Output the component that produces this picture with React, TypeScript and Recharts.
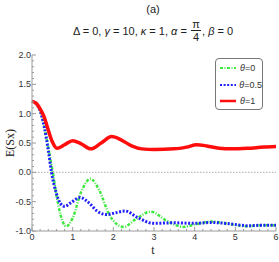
import { LineChart, Line, XAxis, YAxis, ReferenceLine } from 'recharts'

// time samples and values, one pair of arrays per curve
const tTheta0 = [0, 0.1, 0.2, 0.3, 0.4, 0.5, 0.6, 0.7, 0.84, 1.0, 1.2, 1.44, 1.65, 1.9, 2.25, 2.55, 2.92, 3.3, 3.72, 4.05, 4.42, 4.85, 5.28, 5.7, 6.0]
const vTheta0 = [1.21, 1.17, 1.05, 0.8, 0.42, 0.05, -0.38, -0.72, -0.92, -0.78, -0.35, -0.11, -0.3, -0.72, -0.93, -0.8, -0.67, -0.82, -0.93, -0.88, -0.84, -0.88, -0.92, -0.9, -0.9]

const tTheta05 = [0, 0.1, 0.2, 0.3, 0.4, 0.48, 0.6, 0.7, 0.8, 0.95, 1.18, 1.4, 1.6, 1.84, 2.05, 2.29, 2.6, 2.98, 3.5, 4.0, 4.4, 4.9, 5.3, 5.7, 6.0]
const vTheta05 = [1.21, 1.17, 1.05, 0.78, 0.38, 0.0, -0.36, -0.53, -0.58, -0.52, -0.43, -0.52, -0.66, -0.72, -0.69, -0.66, -0.77, -0.87, -0.86, -0.87, -0.855, -0.88, -0.91, -0.9, -0.9]

const tTheta1 = [0, 0.1, 0.2, 0.3, 0.4, 0.5, 0.61, 0.8, 1.0, 1.2, 1.45, 1.7, 1.96, 2.2, 2.45, 2.7, 3.0, 3.5, 3.8, 4.05, 4.3, 4.6, 4.9, 5.3, 5.7, 6.0]
const vTheta1 = [1.21, 1.18, 1.08, 0.94, 0.72, 0.52, 0.41, 0.47, 0.54, 0.49, 0.4, 0.5, 0.61, 0.55, 0.45, 0.4, 0.39, 0.4, 0.43, 0.47, 0.45, 0.41, 0.4, 0.41, 0.43, 0.44]

const xMajor = [0, 1, 2, 3, 4, 5, 6]
const xTicks = [0, 0.2, 0.4, 0.6, 0.8, 1, 1.2, 1.4, 1.6, 1.8, 2, 2.2, 2.4, 2.6, 2.8, 3, 3.2, 3.4, 3.6, 3.8, 4, 4.2, 4.4, 4.6, 4.8, 5, 5.2, 5.4, 5.6, 5.8, 6]
const yMajor = [-1, -0.5, 0, 0.5, 1, 1.5, 2]
const yTicks = [-1, -0.9, -0.8, -0.7, -0.6, -0.5, -0.4, -0.3, -0.2, -0.1, 0, 0.1, 0.2, 0.3, 0.4, 0.5, 0.6, 0.7, 0.8, 0.9, 1, 1.1, 1.2, 1.3, 1.4, 1.5, 1.6, 1.7, 1.8, 1.9, 2]

const toPoints = (ts: number[], vs: number[]) => ts.map((t, i) => ({ t, v: vs[i] }))

const series = [
  { name: 'θ=0', data: toPoints(tTheta0, vTheta0), color: '#3fe83f', dash: '3 1.5 1 1.5', width: 2.5 },
  { name: 'θ=0.5', data: toPoints(tTheta05, vTheta05), color: '#1f1fff', dash: '2 1.6', width: 3 },
  { name: 'θ=1', data: toPoints(tTheta1, vTheta1), color: '#ff0d0d', dash: undefined, width: 3.5 },
]

const FRAME = '#9a9a9a'
const TICK_FONT = '"Liberation Sans", Arial, sans-serif'
const SERIF = '"Liberation Serif", "Times New Roman", serif'
const isMajor = (list: number[], v: number) => list.some(m => Math.abs(m - v) < 1e-6)

function BottomTick({ x, y, payload }: any) {
  const major = isMajor(xMajor, payload.value)
  return (
    <g>
      <line x1={x} x2={x} y1={y} y2={y - (major ? 4 : 2)} stroke={FRAME} />
      {major && (
        <text x={x} y={y + 9} textAnchor="middle" fontSize={9} fill="#333" fontFamily={TICK_FONT}>
          {payload.value}
        </text>
      )}
    </g>
  )
}

function TopTick({ x, y, payload }: any) {
  const major = isMajor(xMajor, payload.value)
  return <line x1={x} x2={x} y1={y} y2={y + (major ? 4 : 2)} stroke={FRAME} />
}

function LeftTick({ x, y, payload }: any) {
  const major = isMajor(yMajor, payload.value)
  return (
    <g>
      <line x1={x} x2={x + (major ? 4 : 2)} y1={y} y2={y} stroke={FRAME} />
      {major && (
        <text x={x - 1} y={y + 3} textAnchor="end" fontSize={9} fill="#333" fontFamily={TICK_FONT}>
          {payload.value.toFixed(1)}
        </text>
      )}
    </g>
  )
}

function RightTick({ x, y, payload }: any) {
  const major = isMajor(yMajor, payload.value)
  return <line x1={x} x2={x - (major ? 4 : 2)} y1={y} y2={y} stroke={FRAME} />
}

function LegendBox() {
  return (
    <div
      style={{
        position: 'absolute',
        left: 215,
        top: 58,
        width: 48,
        height: 52,
        border: '1px solid #777',
        borderRadius: 4,
        background: '#fff',
        boxSizing: 'border-box',
        padding: '1px 0 0 3px',
        fontFamily: TICK_FONT,
        fontSize: 9,
        color: '#333',
      }}
    >
      {series.map(s => (
        <div key={s.name} style={{ display: 'flex', alignItems: 'center', height: 16.5 }}>
          <svg width={18} height={6}>
            <line x1={1} x2={17} y1={3} y2={3} stroke={s.color} strokeWidth={s.dash ? 2 : 2.5} strokeDasharray={s.dash} />
          </svg>
          <span style={{ marginLeft: 3 }}>
            <i>θ</i>
            {s.name.slice(1)}
          </span>
        </div>
      ))}
    </div>
  )
}

export default function App() {
  return (
    <div style={{ position: 'absolute', left: 0, top: 0, width: 279, height: 262, background: '#fff' }}>
      <LineChart width={279} height={262} margin={{ top: 55, right: 3, bottom: 0, left: 0 }}>
        <XAxis
          dataKey="t"
          type="number"
          domain={[0, 6]}
          ticks={xTicks}
          interval={0}
          tick={<BottomTick />}
          tickSize={0}
          tickMargin={0}
          height={31}
          stroke={FRAME}
          allowDuplicatedCategory={false}
        />
        <XAxis
          xAxisId="top"
          orientation="top"
          dataKey="t"
          type="number"
          domain={[0, 6]}
          ticks={xTicks}
          interval={0}
          tick={<TopTick />}
          tickSize={0}
          tickMargin={0}
          height={0}
          stroke={FRAME}
          allowDuplicatedCategory={false}
        />
        <YAxis
          type="number"
          domain={[-1, 2]}
          ticks={yTicks}
          interval={0}
          tick={<LeftTick />}
          tickSize={0}
          tickMargin={0}
          width={32}
          stroke={FRAME}
        />
        <YAxis
          yAxisId="right"
          orientation="right"
          type="number"
          domain={[-1, 2]}
          ticks={yTicks}
          interval={0}
          tick={<RightTick />}
          tickSize={0}
          tickMargin={0}
          width={0}
          stroke={FRAME}
        />
        <ReferenceLine y={0} stroke="#aaa" strokeDasharray="1.5 1.5" />
        {series.map(s => (
          <Line
            key={s.name}
            data={s.data}
            dataKey="v"
            name={s.name}
            type="monotone"
            stroke={s.color}
            strokeWidth={s.width}
            strokeDasharray={s.dash}
            dot={false}
            isAnimationActive={false}
          />
        ))}
      </LineChart>
      <div style={{ position: 'absolute', left: 0, top: 3, width: 306, textAlign: 'center', fontFamily: TICK_FONT, fontSize: 11, color: '#222' }}>
        (a)
      </div>
      <div
        style={{
          position: 'absolute',
          left: 0,
          top: 19,
          width: 306,
          display: 'flex',
          justifyContent: 'center',
          alignItems: 'center',
          fontFamily: TICK_FONT,
          fontSize: 11,
          color: '#222',
          whiteSpace: 'pre',
        }}
      >
        <span>
          Δ = 0, <i>γ</i> = 10, <i>κ</i> = 1, <i>α</i> ={' '}
        </span>
        <span style={{ display: 'inline-flex', flexDirection: 'column', alignItems: 'center', lineHeight: '11px', margin: '0 1px' }}>
          <span>π</span>
          <span style={{ borderTop: '1px solid #222', padding: '1px 2px 0' }}>4</span>
        </span>
        <span>
          , <i>β</i> = 0
        </span>
      </div>
      <div
        style={{
          position: 'absolute',
          left: 10,
          top: 143,
          transform: 'translate(-50%, -50%) rotate(-90deg)',
          fontFamily: SERIF,
          fontSize: 12,
          color: '#222',
        }}
      >
        E(Sx)
      </div>
      <div
        style={{
          position: 'absolute',
          left: 153,
          top: 250,
          transform: 'translate(-50%, -50%)',
          fontFamily: SERIF,
          fontSize: 12,
          color: '#222',
        }}
      >
        t
      </div>
      <LegendBox />
    </div>
  )
}
